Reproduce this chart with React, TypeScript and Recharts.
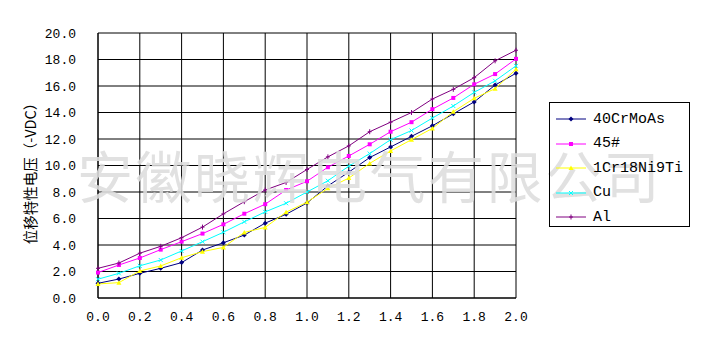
import React from "react";
import { LineChart, Line, XAxis, YAxis, CartesianGrid } from "recharts";

const xValues = [0.0, 0.1, 0.2, 0.3, 0.4, 0.5, 0.6, 0.7, 0.8, 0.9, 1.0, 1.1, 1.2, 1.3, 1.4, 1.5, 1.6, 1.7, 1.8, 1.9, 2.0];

const crMoAs = [1.11, 1.43, 1.86, 2.24, 2.67, 3.62, 4.17, 4.75, 5.65, 6.32, 7.17, 8.46, 9.5, 10.6, 11.4, 12.2, 13.0, 13.9, 14.8, 16.07, 16.96];
const steel45 = [1.92, 2.49, 3.02, 3.65, 4.25, 4.86, 5.56, 6.36, 7.08, 8.15, 8.81, 9.87, 10.72, 11.6, 12.55, 13.27, 14.25, 15.1, 16.13, 16.9, 18.05];
const cr18Ni9Ti = [1.06, 1.16, 2.04, 2.42, 3.04, 3.5, 3.82, 4.95, 5.33, 6.48, 7.23, 8.28, 9.05, 10.16, 11.1, 11.95, 12.8, 14.06, 15.07, 15.8, 17.26];
const copper = [1.42, 1.86, 2.43, 2.87, 3.55, 4.25, 4.96, 5.75, 6.5, 7.15, 8.0, 8.85, 9.95, 10.9, 11.95, 12.64, 13.58, 14.49, 15.52, 16.39, 17.52];
const aluminium = [2.24, 2.64, 3.38, 3.9, 4.55, 5.35, 6.35, 7.27, 8.15, 8.72, 9.7, 10.65, 11.48, 12.55, 13.27, 14.0, 15.02, 15.75, 16.63, 17.9, 18.7];

const seriesNames = ["40CrMoAs", "45#", "1Cr18Ni9Ti", "Cu", "Al"];
const seriesValues = [crMoAs, steel45, cr18Ni9Ti, copper, aluminium];
const seriesColors = ["#000080", "#ff00ff", "#ffff00", "#00ffff", "#800080"];
const markerKinds = ["diamond", "square", "triangle", "cross", "plus"];

const xTicks = [0, 0.2, 0.4, 0.6, 0.8, 1.0, 1.2, 1.4, 1.6, 1.8, 2.0];
const yTicks = [0, 2, 4, 6, 8, 10, 12, 14, 16, 18, 20];

const yLabel = "位移特性电压（-VDC）";
const watermark = "安徽晓辉电气有限公司";

const data = xValues.map((x, i) => {
  const row: Record<string, number> = { x };
  seriesValues.forEach((vals, s) => {
    row[`s${s}`] = vals[i];
  });
  return row;
});

const tickFont = { fontFamily: "'Liberation Mono', monospace", fontSize: 13, fill: "#000" };

function marker(kind: string, cx: number, cy: number, color: string, key?: string) {
  switch (kind) {
    case "diamond":
      return <path key={key} d={`M${cx},${cy - 2.5}L${cx + 2.5},${cy}L${cx},${cy + 2.5}L${cx - 2.5},${cy}Z`} fill={color} />;
    case "square":
      return <rect key={key} x={cx - 2} y={cy - 2} width={4} height={4} fill={color} />;
    case "triangle":
      return <path key={key} d={`M${cx},${cy - 2.5}L${cx + 2.5},${cy + 2}L${cx - 2.5},${cy + 2}Z`} fill={color} />;
    case "cross":
      return (
        <path key={key} d={`M${cx - 2},${cy - 2}L${cx + 2},${cy + 2}M${cx + 2},${cy - 2}L${cx - 2},${cy + 2}`} stroke={color} strokeWidth={1} />
      );
    default:
      return <path key={key} d={`M${cx},${cy - 2.5}L${cx},${cy + 2.5}M${cx - 2},${cy}L${cx + 2},${cy}`} stroke={color} strokeWidth={1} />;
  }
}

const LegendBox = () => (
  <div
    style={{
      position: "absolute",
      left: 549,
      top: 102,
      width: 139,
      height: 123,
      border: "1px solid #000",
    }}
  >
    {seriesNames.map((name, i) => (
      <div
        key={name}
        style={{ position: "absolute", left: 6, top: 7 + i * 24.5, height: 18, display: "flex", alignItems: "center" }}
      >
        <svg width={30} height={10} style={{ marginRight: 7 }}>
          <line x1={0} y1={5} x2={30} y2={5} stroke={seriesColors[i]} strokeWidth={1} />
          {marker(markerKinds[i], 15, 5, seriesColors[i])}
        </svg>
        <span style={{ fontFamily: "'Liberation Mono', monospace", fontSize: 15, color: "#000", whiteSpace: "nowrap" }}>{name}</span>
      </div>
    ))}
  </div>
);

export default function App() {
  return (
    <div style={{ position: "absolute", left: 0, top: 0, width: 709, height: 338, background: "#fff", overflow: "hidden" }}>
      <LineChart width={709} height={338} data={data} margin={{ top: 33, right: 193, bottom: 10, left: 0 }}>
        <CartesianGrid stroke="#000" strokeWidth={1} />
        <XAxis
          dataKey="x"
          type="number"
          domain={[0, 2]}
          ticks={xTicks}
          tickFormatter={(v: number) => v.toFixed(1)}
          tick={tickFont}
          tickLine={false}
          axisLine={{ stroke: "#000" }}
          tickSize={0}
          tickMargin={14}
          height={30}
          interval={0}
        />
        <YAxis
          type="number"
          domain={[0, 20]}
          ticks={yTicks}
          tickFormatter={(v: number) => v.toFixed(1)}
          tick={tickFont}
          tickLine={false}
          axisLine={{ stroke: "#000" }}
          tickSize={0}
          tickMargin={22}
          width={98}
          interval={0}
        />
        {seriesNames.map((name, i) => (
          <Line
            key={name}
            dataKey={`s${i}`}
            name={name}
            type="linear"
            stroke={seriesColors[i]}
            strokeWidth={1}
            isAnimationActive={false}
            dot={(p: any) => marker(markerKinds[i], p.cx, p.cy, seriesColors[i], `d${i}-${p.index}`)}
            activeDot={false}
          />
        ))}
      </LineChart>
      <div
        style={{
          position: "absolute",
          left: -70,
          top: 160,
          width: 200,
          height: 20,
          lineHeight: "20px",
          transform: "rotate(-90deg)",
          textAlign: "center",
          fontFamily: "'Noto Sans CJK SC', sans-serif",
          fontSize: 14.5,
          color: "#000",
        }}
      >
        {yLabel}
      </div>
      <div
        style={{
          position: "absolute",
          left: 77,
          top: 146,
          lineHeight: "56px",
          fontFamily: "'Noto Sans CJK SC', sans-serif",
          fontWeight: 400,
          fontSize: 56,
          letterSpacing: 2.5,
          color: "#dedede",
          opacity: 0.88,
          whiteSpace: "nowrap",
          pointerEvents: "none",
        }}
      >
        {watermark}
      </div>
      <LegendBox />
    </div>
  );
}
